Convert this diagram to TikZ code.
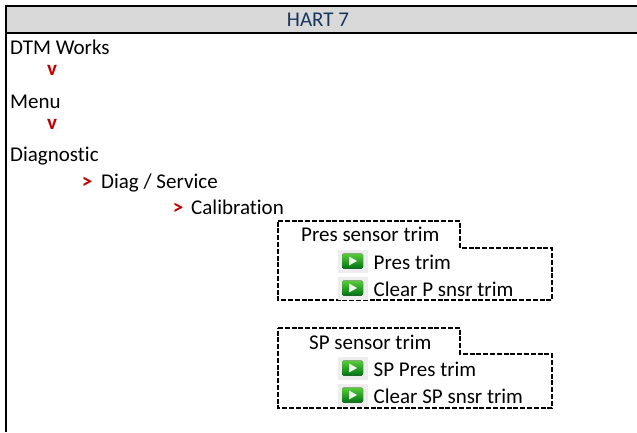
\documentclass[tikz,border=0pt]{standalone}
\usepackage{fontspec}
\setmainfont[Ligatures=NoCommon]{Carlito}
\definecolor{hdr}{RGB}{217,217,217}
\definecolor{hdrtxt}{RGB}{23,54,93}
\definecolor{redmark}{RGB}{192,0,0}
\definecolor{icodark}{RGB}{0,115,20}
\definecolor{icolite}{RGB}{90,205,60}
\tikzset{
  x=1pt,y=-1pt,
  lbl/.style={inner sep=0pt,anchor=base west,font=\fontsize{21}{24}\selectfont,text=black},
  redm/.style={inner sep=0pt,anchor=base,font=\fontsize{21}{24}\selectfont\bfseries,text=redmark},
  dashbox/.style={draw=black,line width=1.6pt,dash pattern=on 5pt off 1.8pt},
  frameln/.style={draw=black,line width=2pt},
  playicon/.pic={
    \fill[black!7] (-12.5,-11.5) rectangle (18,11.5);
    \fill[top color=icolite,bottom color=icodark,rounded corners=1.5pt] (-8,-7.5) rectangle (13,7.5);
    \fill[white!92!green] (-1,-4.5) -- (7,0) -- (-1,4.5) -- cycle;
  }
}
\begin{document}
\begin{tikzpicture}
\useasboundingbox (0,0) rectangle (637,432);
\fill[white] (0,0) rectangle (637,432);
\fill[hdr] (6,6) rectangle (637,33);
\draw[frameln] (6,432) -- (6,6) -- (637,6);
\draw[frameln] (6,33) -- (637,33);
\node[lbl,anchor=base,text=hdrtxt] (title) at (318,26) {HART 7};
\node[lbl] (dtm) at (10,54) {DTM Works};
\node[redm] (v1) at (52,75) {v};
\node[lbl] (menu) at (10,108) {Menu};
\node[redm] (v2) at (52,129) {v};
\node[lbl] (diag) at (10,161) {Diagnostic};
\node[redm] (g1) at (87,188) {>};
\node[lbl] (svc) at (101,188) {Diag / Service};
\node[redm] (g2) at (178,214) {>};
\node[lbl] (cal) at (191,214) {Calibration};
\draw[dashbox] (278,221) -- (460,221) -- (460,248) -- (552,248) -- (552,300) -- (278,300) -- cycle;
\draw[dashbox] (278,328) -- (460,328) -- (460,354) -- (552,354) -- (552,408) -- (278,408) -- cycle;
\pic at (350,261) {playicon};
\pic at (350,288) {playicon};
\pic at (350,368) {playicon};
\pic at (350,395) {playicon};
\node[lbl] (ps) at (301,241) {Pres sensor trim};
\node[lbl] (pt) at (373.5,269) {Pres trim};
\node[lbl] (cp) at (373.5,296) {Clear P snsr trim};
\node[lbl] (sp) at (309,349) {SP sensor trim};
\node[lbl] (spt) at (373.5,376) {SP Pres trim};
\node[lbl] (cs) at (373.5,403) {Clear SP snsr trim};
\end{tikzpicture}
\end{document}
